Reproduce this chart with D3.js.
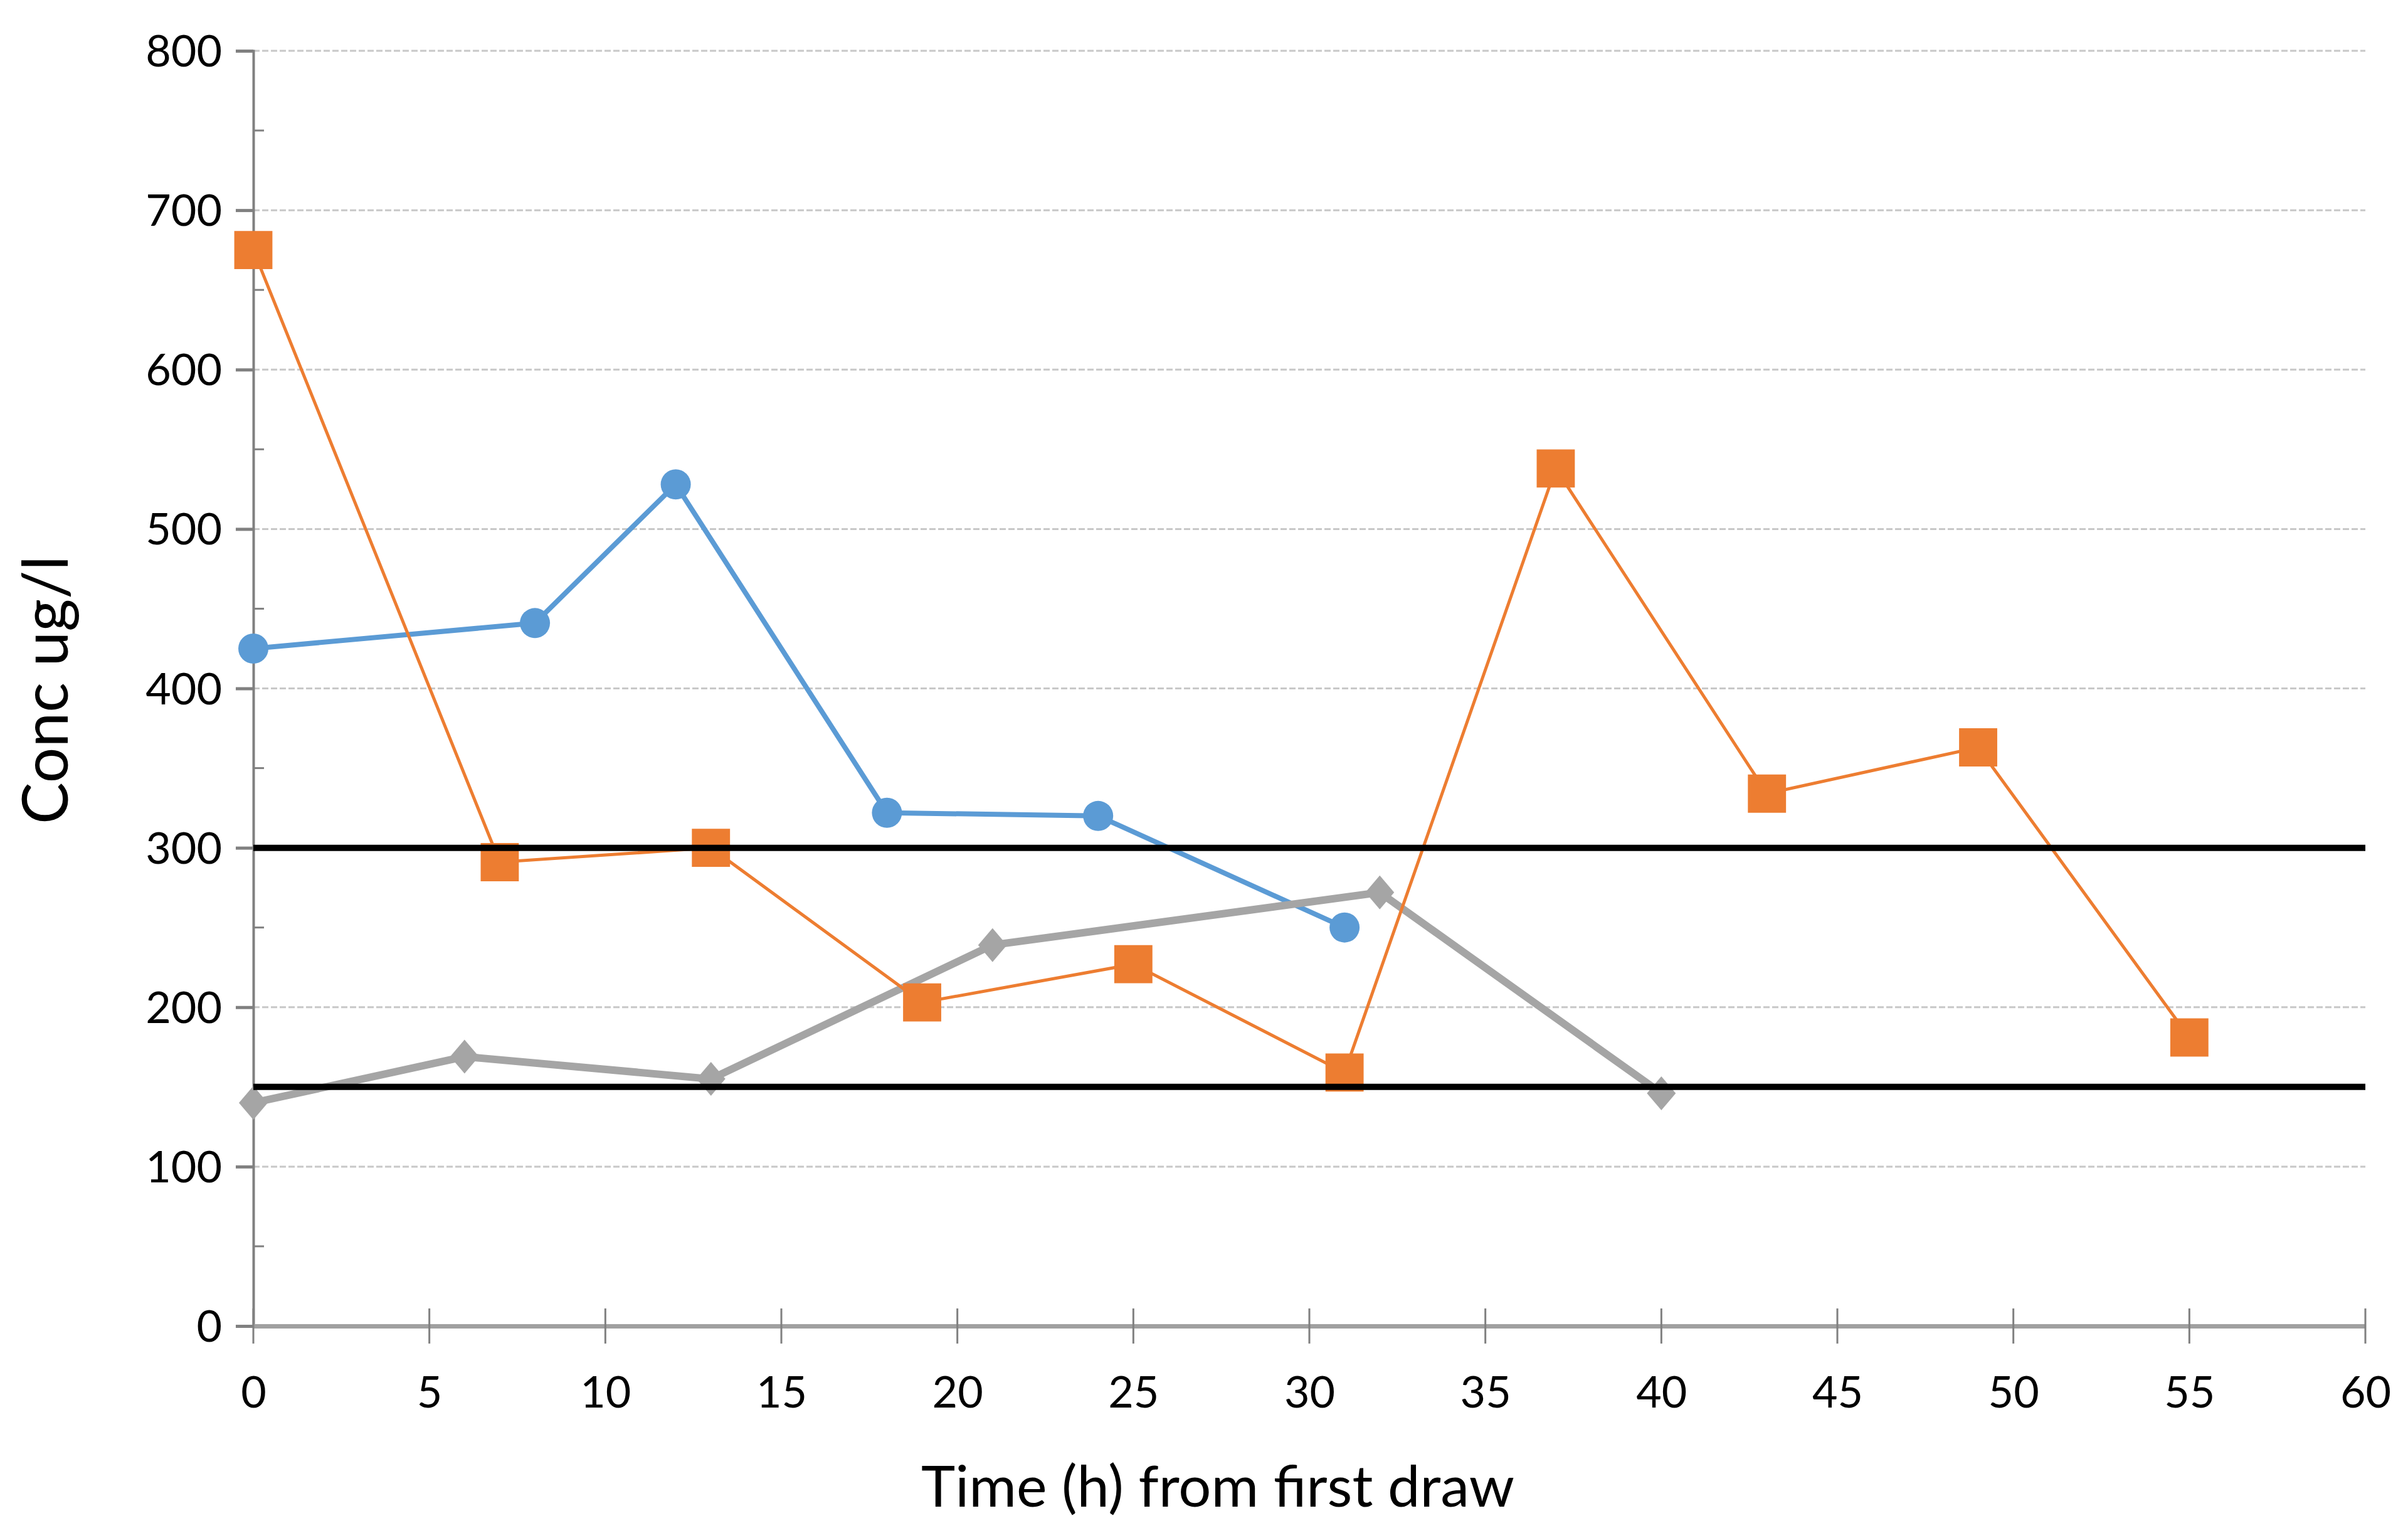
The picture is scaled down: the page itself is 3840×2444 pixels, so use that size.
<!DOCTYPE html>
<html><head><meta charset="utf-8">
<script src="https://cdn.jsdelivr.net/npm/d3@7"></script>
<style>html,body{margin:0;padding:0;background:#fff;}svg{display:block;}</style>
</head><body>
<svg id="c" width="3840" height="2444"></svg>
<script>
const xTicks = [0,5,10,15,20,25,30,35,40,45,50,55,60];
const yTicks = [0,100,200,300,400,500,600,700,800];
const blueX = [0,8,12,18,24,31];
const blueY = [425,441,528,322,320,250];
const orangeX = [0,7,13,19,25,31,37,43,49,55];
const orangeY = [675,291,300,203,227,159,538,334,363,181];
const grayX = [0,6,13,21,32,40];
const grayY = [140,169,155,239,272,146];
const refLines = [300,150];
const xTitle = "Time (h) from first draw";
const yTitle = "Conc ug/l";

const FONT = "Lato, 'Open Sans', sans-serif";
const svg = d3.select("#c");
const L=404, R=3772, T=81, B=2114;
const x = d3.scaleLinear().domain([0,60]).range([L,R]);
const y = d3.scaleLinear().domain([0,800]).range([B,T]);

// gridlines
svg.append("g").selectAll("line").data(yTicks.filter(d=>d>0)).join("line")
  .attr("x1",x(0)).attr("x2",x(60)).attr("y1",d=>y(d)).attr("y2",d=>y(d))
  .attr("stroke","#c8c8c8").attr("stroke-width",3).attr("stroke-dasharray","10,4");

// y axis
const yAxis = d3.axisLeft(y).tickValues(yTicks).tickSize(28).tickPadding(22).tickFormat(d3.format("d"));
const gy = svg.append("g").attr("transform",`translate(${L},0)`).call(yAxis);
gy.select(".domain").attr("stroke","#808080").attr("stroke-width",4);
gy.selectAll(".tick line").attr("stroke","#808080").attr("stroke-width",5);
gy.selectAll(".tick text").attr("font-family",FONT).attr("font-size",70).attr("fill","#000").attr("dy","0.35em");
// minor ticks
svg.append("g").selectAll("line").data(d3.range(50,800,100)).join("line")
  .attr("x1",L).attr("x2",L+17).attr("y1",d=>y(d)).attr("y2",d=>y(d))
  .attr("stroke","#808080").attr("stroke-width",3);

// x axis
const xAxis = d3.axisBottom(x).tickValues(xTicks).tickSize(0).tickPadding(80).tickFormat(d3.format("d"));
const gx = svg.append("g").attr("transform",`translate(0,${B})`).call(xAxis);
gx.select(".domain").attr("stroke","#a0a0a0").attr("stroke-width",7);
gx.selectAll(".tick text").attr("font-family",FONT).attr("font-size",70).attr("fill","#000");
svg.append("g").selectAll("line").data(xTicks).join("line")
  .attr("x1",d=>x(d)).attr("x2",d=>x(d)).attr("y1",B-28).attr("y2",B+28)
  .attr("stroke","#808080").attr("stroke-width",3);

const line = d3.line().x(d=>x(d[0])).y(d=>y(d[1]));
const zip = (a,b)=>a.map((v,i)=>[v,b[i]]);
const bd = zip(blueX,blueY), od = zip(orangeX,orangeY), gd = zip(grayX,grayY);

// lines
svg.append("path").attr("d",line(bd)).attr("fill","none").attr("stroke","#5B9BD5").attr("stroke-width",8);
svg.append("path").attr("d",line(gd)).attr("fill","none").attr("stroke","#A5A5A5").attr("stroke-width",12);
svg.append("path").attr("d",line(od)).attr("fill","none").attr("stroke","#ED7D31").attr("stroke-width",5);

// markers
svg.append("g").selectAll("circle").data(bd).join("circle")
  .attr("cx",d=>x(d[0])).attr("cy",d=>y(d[1])).attr("r",24).attr("fill","#5B9BD5");
svg.append("g").selectAll("path").data(gd).join("path")
  .attr("d","M0,-27L23,0L0,27L-23,0Z").attr("transform",d=>`translate(${x(d[0])},${y(d[1])})`)
  .attr("fill","#A5A5A5");
svg.append("g").selectAll("path").data(od).join("path")
  .attr("d",d3.symbol(d3.symbolSquare,3700)).attr("transform",d=>`translate(${x(d[0])},${y(d[1])})`)
  .attr("fill","#ED7D31");

// reference lines
svg.append("g").selectAll("line").data(refLines).join("line")
  .attr("x1",x(0)).attr("x2",x(60)).attr("y1",d=>y(d)).attr("y2",d=>y(d))
  .attr("stroke","#000").attr("stroke-width",10);

// titles
svg.append("text").attr("x",1942).attr("y",2402).attr("text-anchor","middle")
  .attr("font-family",FONT).attr("font-size",92).attr("fill","#000").text(xTitle);
svg.append("text").attr("transform","translate(108,1100) rotate(-90)").attr("text-anchor","middle")
  .attr("font-family",FONT).attr("font-size",100).attr("fill","#000").text(yTitle);
</script>
</body></html>
